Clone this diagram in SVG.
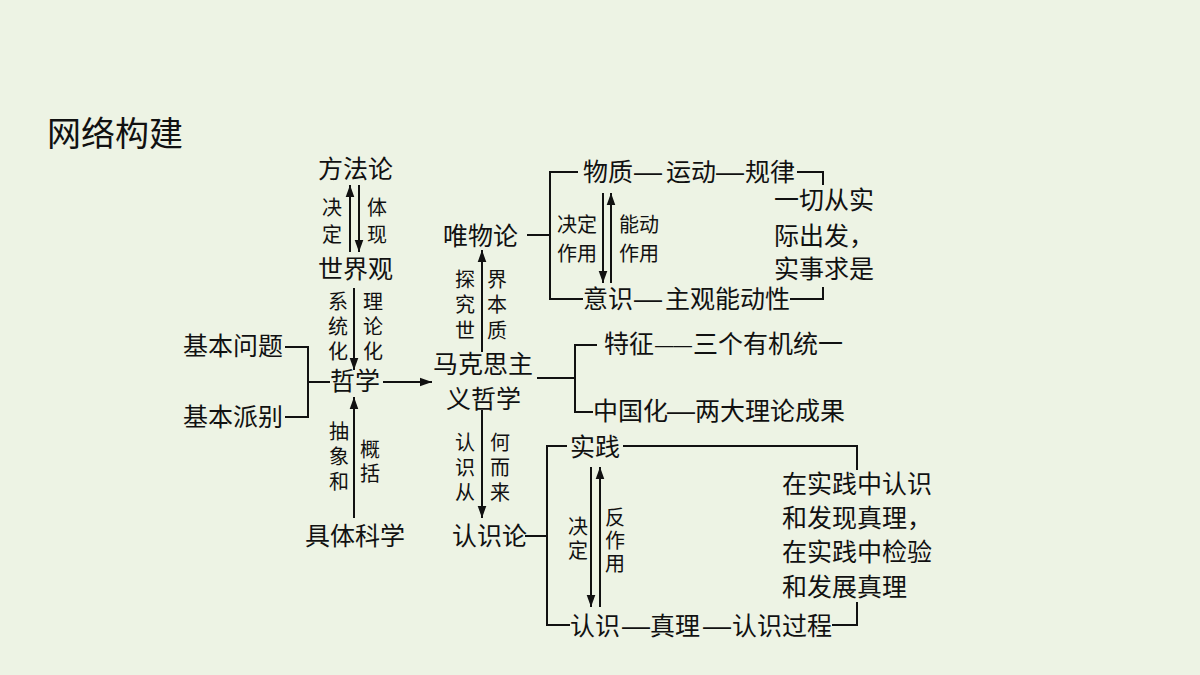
<svg xmlns="http://www.w3.org/2000/svg" width="1200" height="675" viewBox="0 0 1200 675">
<style>
text{font-family:"Noto Sans CJK SC","Liberation Sans",sans-serif;fill:#111;}
.m{font-size:25px;}
.s{font-size:20px;}
.v{font-size:20px;writing-mode:vertical-rl;text-orientation:upright;}
.t{font-size:34px;}
.d{font-family:"Liberation Sans",sans-serif;font-size:28px;}
.d2{font-family:"Liberation Sans",sans-serif;font-size:18.5px;}
.ln{fill:none;stroke:#111;stroke-width:2;}
.ar{fill:none;stroke:#111;stroke-width:2;marker-end:url(#ah);}
</style>
<defs>
<marker id="ah" markerUnits="userSpaceOnUse" markerWidth="12" markerHeight="16" refX="14" refY="5" orient="auto" viewBox="0 0 14 10">
<path d="M0,0 L14,5 L0,10 Z" fill="#111"/>
</marker>
</defs>
<rect width="1200" height="675" fill="#EDF3E4"/>
<text class="t" x="47" y="146">网络构建</text>

<g id="connectors">
<line class="ar" x1="350" y1="252" x2="350" y2="185"/>
<line class="ar" x1="359" y1="185" x2="359" y2="252"/>
<line class="ar" x1="354" y1="288" x2="354" y2="370"/>
<line class="ar" x1="354" y1="518" x2="354" y2="397"/>
<line class="ar" x1="383" y1="382" x2="432" y2="382"/>
<line class="ar" x1="482" y1="352" x2="482" y2="250"/>
<line class="ar" x1="482" y1="410" x2="482" y2="518"/>
<polyline class="ln" points="285,347 308,347 308,417 285,417"/>
<line class="ln" x1="308" y1="382" x2="330" y2="382"/>
<line class="ln" x1="527" y1="235" x2="550" y2="235"/>
<polyline class="ln" points="578,172 550,172 550,299 583,299"/>
<line class="ar" x1="603" y1="193" x2="603" y2="283"/>
<line class="ar" x1="611" y1="283" x2="611" y2="193"/>
<polyline class="ln" points="797,172 823,172 823,185"/>
<polyline class="ln" points="790,299 823,299 823,287"/>
<line class="ln" x1="537" y1="378" x2="575" y2="378"/>
<polyline class="ln" points="597,345 575,345 575,412 593,412"/>
<line class="ln" x1="525" y1="536" x2="547" y2="536"/>
<polyline class="ln" points="567,446 547,446 547,625 570,625"/>
<polyline class="ln" points="623,446 857,446 857,470"/>
<line class="ar" x1="591" y1="467" x2="591" y2="607"/>
<line class="ar" x1="600" y1="607" x2="600" y2="467"/>
<polyline class="ln" points="832,625 857,625 857,602"/>
</g>

<g id="n-fangfalun"><text class="m" x="318" y="178">方法论</text></g>
<g id="l-jueding1"><text class="v" x="332" y="197" letter-spacing="7">决定</text></g>
<g id="l-tixian"><text class="v" x="377" y="197" letter-spacing="7">体现</text></g>
<g id="n-shijieguan"><text class="m" x="318" y="278">世界观</text></g>
<g id="l-xitonghua"><text class="v" x="338" y="291" letter-spacing="5">系统化</text></g>
<g id="l-lilunhua"><text class="v" x="373" y="291" letter-spacing="5">理论化</text></g>
<g id="n-zhexue"><text class="m" x="330" y="390">哲学</text></g>
<g id="n-jibenwenti"><text class="m" x="183" y="355">基本问题</text></g>
<g id="n-jibenpaibie"><text class="m" x="183" y="426">基本派别</text></g>
<g id="l-chouxiang"><text class="v" x="339" y="421" letter-spacing="5">抽象和</text></g>
<g id="l-gaikuo"><text class="v" x="370" y="439" letter-spacing="4">概括</text></g>
<g id="n-jutikexue"><text class="m" x="305" y="545">具体科学</text></g>

<g id="n-makesi"><text class="m" x="433" y="373">马克思主<tspan x="446" dy="35">义哲学</tspan></text></g>
<g id="l-tanjiu"><text class="v" x="465" y="269" letter-spacing="5.5">探究世</text></g>
<g id="l-jieben"><text class="v" x="497" y="269" letter-spacing="5.5">界本质</text></g>
<g id="n-weiwulun"><text class="m" x="443" y="245">唯物论</text></g>
<g id="l-renshicong"><text class="v" x="465" y="432" letter-spacing="5">认识从</text></g>
<g id="l-heerlai"><text class="v" x="500" y="432" letter-spacing="5">何而来</text></g>
<g id="n-renshilun"><text class="m" x="452" y="545">认识论</text></g>

<g id="n-wuzhi"><text class="m" y="181"><tspan x="583">物质</tspan><tspan class="d" x="634">—</tspan><tspan x="666">运动</tspan><tspan class="d" x="716">—</tspan><tspan x="745">规律</tspan></text></g>
<g id="l-jueding2"><text class="s" x="557" y="232">决定<tspan x="557" dy="29">作用</tspan></text></g>
<g id="l-nengdong"><text class="s" x="619" y="232">能动<tspan x="619" dy="29">作用</tspan></text></g>
<g id="n-yishi"><text class="m" y="308"><tspan x="583">意识</tspan><tspan class="d" x="634">—</tspan><tspan x="665">主观能动性</tspan></text></g>
<g id="n-yiqie"><text class="m" x="774" y="209">一切从实<tspan x="774" dy="36">际出发，</tspan><tspan x="774" dy="33">实事求是</tspan></text></g>

<g id="n-tezheng"><text class="m" y="353"><tspan x="604">特征</tspan><tspan class="d2" x="655" dy="-2">——</tspan><tspan x="693" dy="2">三个有机统一</tspan></text></g>
<g id="n-zhongguohua"><text class="m" y="420"><tspan x="593">中国化</tspan><tspan class="d" x="667">—</tspan><tspan x="695">两大理论成果</tspan></text></g>

<g id="n-shijian"><text class="m" x="570" y="456">实践</text></g>
<g id="l-jueding3"><text class="v" x="578" y="516" letter-spacing="4">决定</text></g>
<g id="l-fanzuoyong"><text class="v" x="615" y="507" letter-spacing="3">反作用</text></g>
<g id="n-renshi"><text class="m" y="635"><tspan x="570">认识</tspan><tspan class="d" x="622">—</tspan><tspan x="650">真理</tspan><tspan class="d" x="703">—</tspan><tspan x="732">认识过程</tspan></text></g>
<g id="n-zaishijian"><text class="m" x="782" y="493">在实践中认识<tspan x="782" dy="34">和发现真理，</tspan><tspan x="782" dy="34">在实践中检验</tspan><tspan x="782" dy="35">和发展真理</tspan></text></g>
</svg>
